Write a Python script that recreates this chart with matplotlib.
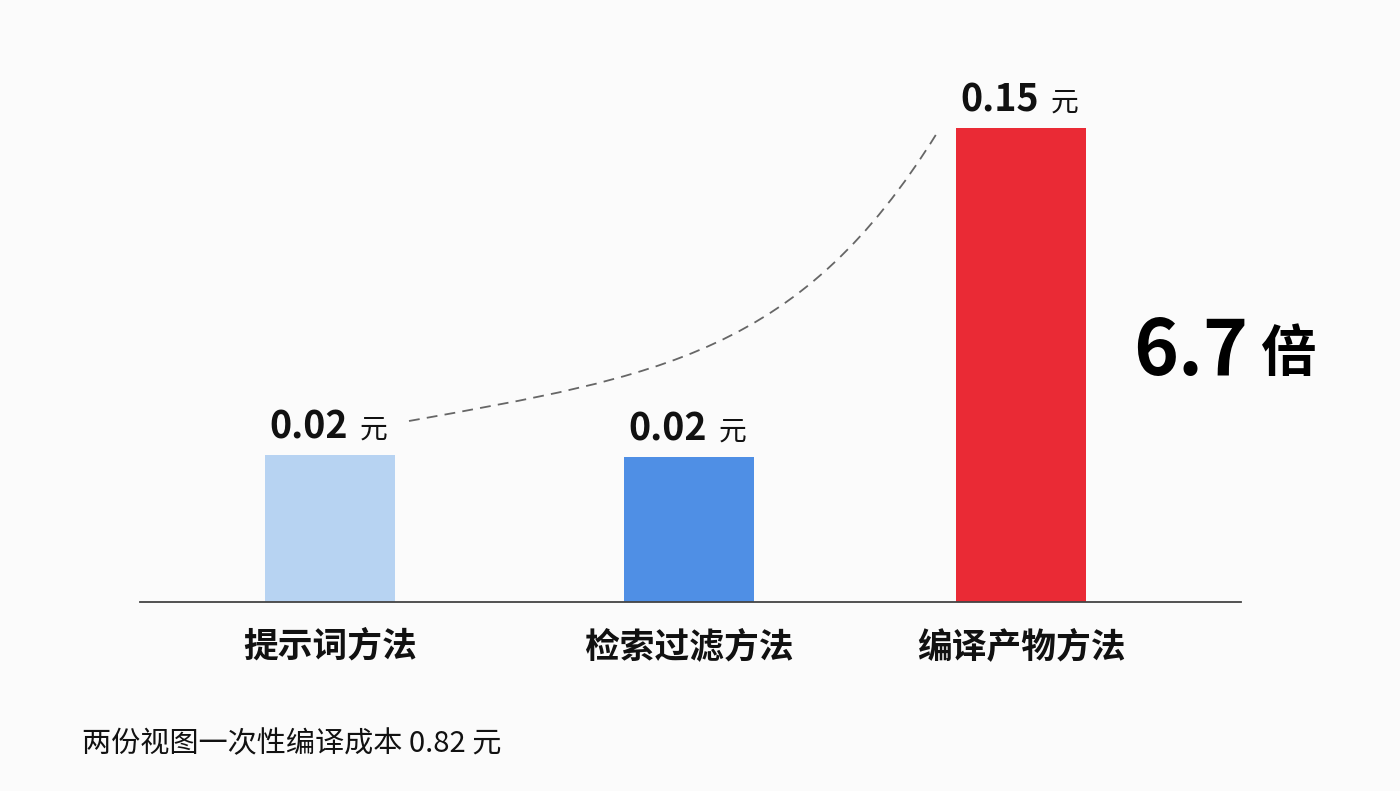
import matplotlib
matplotlib.use("Agg")
import matplotlib.pyplot as plt
import matplotlib.transforms as mtransforms
from matplotlib.path import Path
from matplotlib.patches import PathPatch

plt.rcParams['font.family'] = ['Noto Sans CJK SC', 'DejaVu Sans']

# 数据
methods = ['提示词方法', '检索过滤方法', '编译产物方法']
costs = [0.0224, 0.0219, 0.15]          # 元 / 次
bar_colors = ['#b7d3f2', '#4f8fe5', '#ea2a35']
unit = '元'
footnote = '两份视图一次性编译成本 0.82 元'

# 布局 (像素)
W, H = 1400, 791
x_pos = [330, 689, 1021]
bar_w = 130

fig = plt.figure(figsize=(W / 100, H / 100), dpi=100, facecolor='#fbfbfb')
ax = fig.add_axes([140 / W, 189 / H, 1101 / W, 474 / H])
ax.set_facecolor('#fbfbfb')

# 图中柱高不是线性比例, 用幂次刻度还原
p = 0.6157
ax.set_yscale('function', functions=(lambda v: v ** p, lambda v: v ** (1 / p)))
ax.bar(x_pos, costs, width=bar_w, color=bar_colors, zorder=2)
ax.set_xlim(140, 1241)
ax.set_ylim(0, max(costs))

for s in ['top', 'left', 'right']:
    ax.spines[s].set_visible(False)
ax.spines['bottom'].set_color('#444444')
ax.spines['bottom'].set_linewidth(1.3)
ax.set_xticks([])
ax.set_yticks([])
ax.minorticks_off()

px = mtransforms.Affine2D().scale(1 / W, -1 / H).translate(0, 1) + fig.transFigure
xpx = mtransforms.blended_transform_factory(ax.transData, px)

# 数值标签
for x, c in zip(x_pos, costs):
    ax.annotate(f'{c:.2f}', (x, c), xytext=(18, 17), textcoords='offset pixels',
                ha='right', va='baseline', fontsize=27, fontweight='bold', color='#111111')
    ax.annotate(unit, (x, c), xytext=(30, 17), textcoords='offset pixels',
                ha='left', va='baseline', fontsize=20, color='#111111')

# 类别标签
for x, m in zip(x_pos, methods):
    ax.text(x, 657, m, transform=xpx, ha='center', va='baseline',
            fontsize=25, fontweight='bold', color='#111111')

# 倍数
ratio = costs[2] / costs[0]
fig.text(1133, 375, f'{ratio:.1f}', transform=px, ha='left', va='baseline',
         fontsize=55, fontweight='heavy', color='#000000')
fig.text(1260, 371, '倍', transform=px, ha='left', va='baseline',
         fontsize=40, fontweight='bold', color='#000000')

# 虚线连接
verts = [(409, 421), (659, 376), (800, 354), (937, 133)]
curve = PathPatch(Path(verts, [Path.MOVETO, Path.CURVE4, Path.CURVE4, Path.CURVE4]),
                  transform=px, fill=False, edgecolor='#666666', linewidth=1.3,
                  linestyle=(0, (6, 4)))
fig.add_artist(curve)

# 脚注
fig.text(82, 752, footnote, transform=px, ha='left', va='baseline',
         fontsize=21, color='#111111')

fig.savefig('out.png', dpi=100, facecolor=fig.get_facecolor())
